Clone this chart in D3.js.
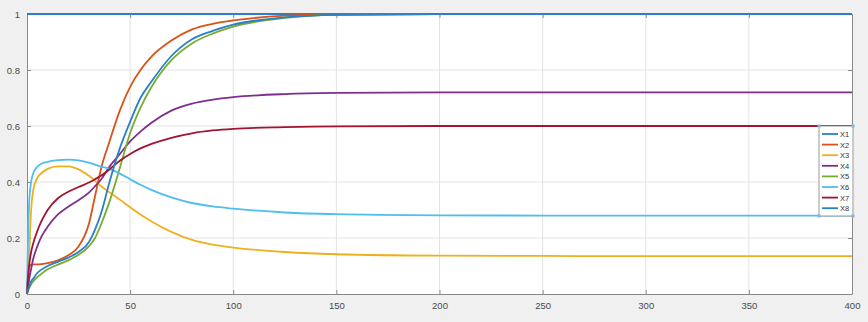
<!DOCTYPE html>
<html>
<head>
<meta charset="utf-8">
<script src="https://cdn.jsdelivr.net/npm/d3@7"></script>
<style>
  html, body { margin: 0; padding: 0; background: #f0f0f0; }
  svg { display: block; }
  text { font-family: "Liberation Sans", Arial, sans-serif; }
</style>
</head>
<body>
<svg id="chart" width="868" height="322"></svg>
<script>
const tValues = [0, 0.5, 1, 2, 3, 5, 7, 10, 15, 20, 25, 30, 33, 36, 40, 45, 50, 55, 60, 70, 80, 90, 100, 125, 150, 200, 250, 300, 400];
const x1 = [1, 1, 1, 1, 1, 1, 1, 1, 1, 1, 1, 1, 1, 1, 1, 1, 1, 1, 1, 1, 1, 1, 1, 1, 1, 1, 1, 1, 1];
const x2 = [0, 0.06, 0.095, 0.105, 0.106, 0.106, 0.107, 0.11, 0.12, 0.138, 0.17, 0.25, 0.35, 0.45, 0.545, 0.655, 0.74, 0.80, 0.845, 0.905, 0.945, 0.965, 0.977, 0.994, 0.999, 1, 1, 1, 1];
const x3 = [0, 0.05, 0.13, 0.3, 0.37, 0.415, 0.432, 0.447, 0.456, 0.456, 0.445, 0.422, 0.405, 0.385, 0.363, 0.337, 0.31, 0.284, 0.261, 0.222, 0.193, 0.176, 0.166, 0.15, 0.142, 0.137, 0.136, 0.135, 0.135];
const x4 = [0, 0.025, 0.05, 0.09, 0.125, 0.17, 0.205, 0.24, 0.284, 0.312, 0.335, 0.362, 0.385, 0.41, 0.455, 0.5, 0.545, 0.58, 0.61, 0.655, 0.68, 0.694, 0.703, 0.714, 0.718, 0.72, 0.72, 0.72, 0.72];
const x5 = [0, 0.01, 0.02, 0.035, 0.045, 0.06, 0.072, 0.088, 0.105, 0.12, 0.14, 0.17, 0.2, 0.25, 0.33, 0.45, 0.575, 0.665, 0.735, 0.835, 0.895, 0.93, 0.955, 0.986, 0.997, 1, 1, 1, 1];
const x6 = [0, 0.2, 0.32, 0.4, 0.43, 0.455, 0.465, 0.472, 0.478, 0.48, 0.477, 0.469, 0.462, 0.455, 0.447, 0.43, 0.41, 0.39, 0.373, 0.345, 0.325, 0.313, 0.305, 0.291, 0.285, 0.281, 0.28, 0.28, 0.28];
const x7 = [0, 0.06, 0.1, 0.15, 0.18, 0.225, 0.26, 0.3, 0.342, 0.365, 0.382, 0.398, 0.41, 0.423, 0.445, 0.476, 0.5, 0.52, 0.535, 0.558, 0.574, 0.584, 0.59, 0.596, 0.599, 0.6, 0.6, 0.6, 0.6];
const x8 = [0, 0.015, 0.025, 0.045, 0.055, 0.075, 0.087, 0.1, 0.115, 0.13, 0.15, 0.185, 0.23, 0.29, 0.40, 0.52, 0.615, 0.70, 0.755, 0.85, 0.91, 0.94, 0.962, 0.988, 0.997, 1, 1, 1, 1];
const seriesNames = ["X1", "X2", "X3", "X4", "X5", "X6", "X7", "X8"];
const seriesColors = ["#2a7fc6", "#D95319", "#EDB120", "#7E2F8E", "#77AC30", "#4DBEEE", "#A2142F", "#2a7fc6"];
const xTicks = [0, 50, 100, 150, 200, 250, 300, 350, 400];
const yTicks = [0, 0.2, 0.4, 0.6, 0.8, 1];

const allSeries = [x1, x2, x3, x4, x5, x6, x7, x8];

const svg = d3.select("#chart");
const W = 868, H = 322;
const m = { left: 27, right: 16, top: 14, bottom: 28 };
const pw = W - m.left - m.right, ph = H - m.top - m.bottom;

svg.append("rect").attr("width", W).attr("height", H).attr("fill", "#f0f0f0");

const x = d3.scaleLinear().domain([0, 400]).range([m.left, m.left + pw]);
const y = d3.scaleLinear().domain([0, 1]).range([m.top + ph, m.top]);

svg.append("rect").attr("x", m.left).attr("y", m.top).attr("width", pw).attr("height", ph).attr("fill", "#ffffff");

// grid
const grid = svg.append("g");
grid.selectAll("line.gx").data(xTicks.slice(1, -1)).enter().append("line")
  .attr("x1", d => x(d)).attr("x2", d => x(d)).attr("y1", m.top).attr("y2", m.top + ph)
  .attr("stroke", "#e3e3e3").attr("stroke-width", 1);
grid.selectAll("line.gy").data(yTicks.slice(1, -1)).enter().append("line")
  .attr("y1", d => y(d)).attr("y2", d => y(d)).attr("x1", m.left).attr("x2", m.left + pw)
  .attr("stroke", "#e3e3e3").attr("stroke-width", 1);

// axes
const xAxis = d3.axisBottom(x).tickValues(xTicks).tickFormat(d3.format("d")).tickSizeInner(-4).tickSizeOuter(0).tickPadding(8);
const xTop = d3.axisTop(x).tickValues(xTicks).tickFormat("").tickSizeInner(-4).tickSizeOuter(0);
const yAxis = d3.axisLeft(y).tickValues(yTicks).tickFormat(d => d === 0 || d === 1 ? String(d) : d3.format(".1f")(d)).tickSizeInner(-4).tickSizeOuter(0).tickPadding(7);
const yRight = d3.axisRight(y).tickValues(yTicks).tickFormat("").tickSizeInner(-4).tickSizeOuter(0);

function styleAxis(g) {
  g.select(".domain").attr("stroke", "#8a8a8a").attr("stroke-width", 1);
  g.selectAll(".tick line").attr("stroke", "#8a8a8a");
  g.selectAll(".tick text").attr("fill", "#4a4a4a").attr("font-size", 9.5);
}
svg.append("g").attr("transform", `translate(0,${m.top + ph})`).call(xAxis).call(styleAxis);
svg.append("g").attr("transform", `translate(0,${m.top})`).call(xTop).call(styleAxis);
svg.append("g").attr("transform", `translate(${m.left},0)`).call(yAxis).call(styleAxis);
svg.append("g").attr("transform", `translate(${m.left + pw},0)`).call(yRight).call(styleAxis);

// lines
const line = d3.line().x((d, i) => x(tValues[i])).y(d => y(d)).curve(d3.curveMonotoneX);
const linesG = svg.append("g");
allSeries.forEach((s, k) => {
  linesG.append("path").datum(s).attr("d", line).attr("fill", "none")
    .attr("stroke", seriesColors[k]).attr("stroke-width", 1.8).attr("stroke-linejoin", "round");
});

// legend
const lg = svg.append("g");
const lx = 819, ly = 126, lw = 34, lh = 90;
lg.append("rect").attr("x", lx).attr("y", ly).attr("width", lw).attr("height", lh)
  .attr("fill", "#ffffff").attr("stroke", "#9a9a9a").attr("stroke-width", 1);
seriesNames.forEach((n, i) => {
  const yy = ly + 8 + i * 10.6;
  lg.append("line").attr("x1", lx + 3).attr("x2", lx + 19).attr("y1", yy).attr("y2", yy)
    .attr("stroke", seriesColors[i]).attr("stroke-width", 1.8);
  lg.append("text").attr("x", lx + 21).attr("y", yy + 3).attr("font-size", 7.5).attr("fill", "#333").text(n);
});
// selection handles
[[lx, ly], [lx + lw, ly], [lx, ly + lh], [lx + lw, ly + lh]].forEach(p => {
  lg.append("rect").attr("x", p[0] - 1.5).attr("y", p[1] - 1.5).attr("width", 3).attr("height", 3)
    .attr("fill", "#8ab4e0").attr("stroke", "none");
});
</script>
</body>
</html>
